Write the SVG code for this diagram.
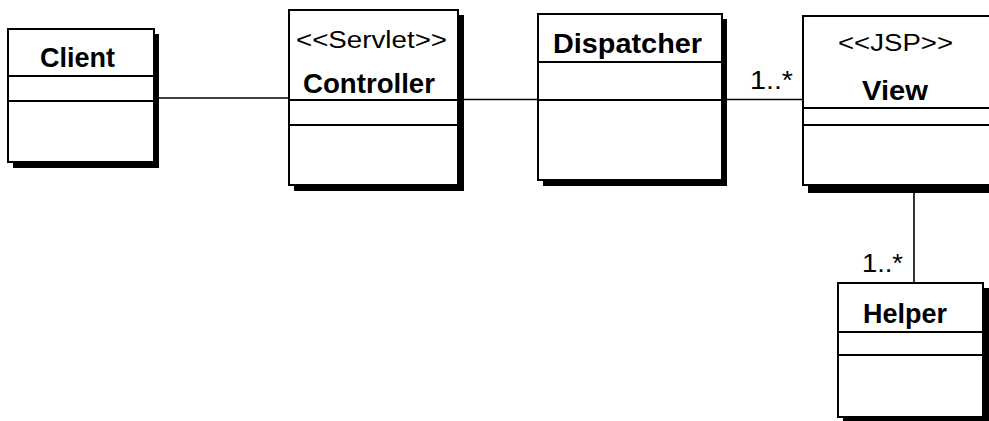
<svg xmlns="http://www.w3.org/2000/svg" width="989" height="421" viewBox="0 0 989 421">
<style>
.sh{fill:#000}
.bx{fill:#fff;stroke:#000;stroke-width:2}
.dv{stroke:#000;stroke-width:2}
.cn{stroke:#000;stroke-width:1.6;fill:none}
.nm{font-family:"Liberation Sans",Arial,sans-serif;font-weight:bold;font-size:27px;fill:#000}
.st{font-family:"Liberation Sans",Arial,sans-serif;font-size:23px;fill:#000}
.ml{font-family:"Liberation Sans",Arial,sans-serif;font-size:25px;fill:#000}
</style>
<rect width="989" height="421" fill="#fff"/>
<g id="connectors">
<line class="cn" x1="154" y1="98" x2="289" y2="98"/>
<line class="cn" x1="458" y1="99.5" x2="803" y2="99.5"/>
<line class="cn" x1="914" y1="185" x2="914" y2="283"/>
<text class="ml" x="750" y="89" textLength="43" lengthAdjust="spacingAndGlyphs">1..*</text>
<text class="ml" x="862" y="272" textLength="41" lengthAdjust="spacingAndGlyphs">1..*</text>
</g>
<g id="client">
<rect class="sh" x="13" y="34" width="146" height="134"/>
<rect class="bx" x="8" y="29" width="146" height="133"/>
<line class="dv" x1="8" y1="76" x2="154" y2="76"/>
<line class="dv" x1="8" y1="101" x2="154" y2="101"/>
<text class="nm" x="40" y="67" textLength="75" lengthAdjust="spacingAndGlyphs">Client</text>
</g>
<g id="controller">
<rect class="sh" x="294" y="15" width="170" height="176"/>
<rect class="bx" x="289" y="10" width="169" height="175"/>
<line class="dv" x1="289" y1="100" x2="458" y2="100"/>
<line class="dv" x1="289" y1="125" x2="458" y2="125"/>
<text class="st" x="296" y="48" textLength="151" lengthAdjust="spacingAndGlyphs">&lt;&lt;Servlet&gt;&gt;</text>
<text class="nm" x="303" y="93" textLength="132" lengthAdjust="spacingAndGlyphs">Controller</text>
</g>
<g id="dispatcher">
<rect class="sh" x="543" y="19" width="184" height="167"/>
<rect class="bx" x="538" y="14" width="184" height="166"/>
<line class="dv" x1="538" y1="62" x2="722" y2="62"/>
<line class="dv" x1="538" y1="100" x2="722" y2="100"/>
<text class="nm" x="553" y="53" textLength="149" lengthAdjust="spacingAndGlyphs">Dispatcher</text>
</g>
<g id="view">
<rect class="sh" x="808" y="21" width="200" height="172"/>
<rect class="bx" x="803" y="16" width="200" height="169"/>
<line class="dv" x1="803" y1="108" x2="1003" y2="108"/>
<line class="dv" x1="803" y1="125" x2="1003" y2="125"/>
<text class="st" x="838" y="51" textLength="115" lengthAdjust="spacingAndGlyphs">&lt;&lt;JSP&gt;&gt;</text>
<text class="nm" x="862" y="100" textLength="66" lengthAdjust="spacingAndGlyphs">View</text>
</g>
<g id="helper">
<rect class="sh" x="843" y="288" width="146" height="140"/>
<rect class="bx" x="838" y="283" width="145" height="134"/>
<line class="dv" x1="838" y1="332" x2="983" y2="332"/>
<line class="dv" x1="838" y1="355" x2="983" y2="355"/>
<text class="nm" x="863" y="323" textLength="84" lengthAdjust="spacingAndGlyphs">Helper</text>
</g>
</svg>
